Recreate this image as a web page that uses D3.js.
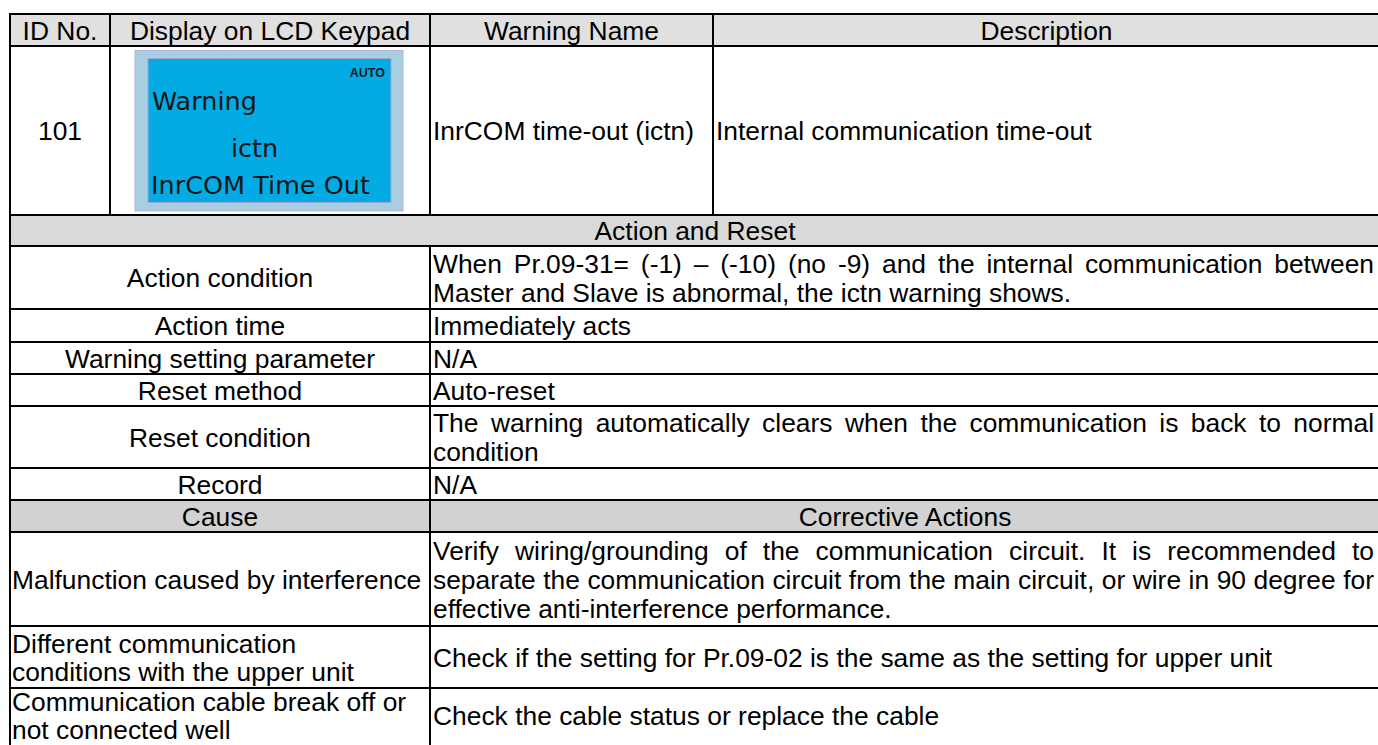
<!DOCTYPE html>
<html><head><meta charset="utf-8">
<script src="https://cdn.jsdelivr.net/npm/d3@7"></script>
<style>html,body{margin:0;padding:0;background:#fff;overflow:hidden}</style>
</head><body><svg id="c" width="1378" height="745"></svg>
<script>
// ---------- content ----------
const headers = ["ID No.", "Display on LCD Keypad", "Warning Name", "Description"];
const idNo = "101";
const lcdLines = ["Warning", "ictn", "InrCOM Time Out"];
const lcdBadge = "AUTO";
const warningName = "InrCOM time-out (ictn)";
const description = "Internal communication time-out";
const sectionTitle = "Action and Reset";
const actionLabels = ["Action condition", "Action time", "Warning setting parameter", "Reset method", "Reset condition", "Record"];
const actionValues = [
  ["When Pr.09-31= (-1) \u2013 (-10) (no -9) and the internal communication between", "Master and Slave is abnormal, the ictn warning shows."],
  ["Immediately acts"],
  ["N/A"],
  ["Auto-reset"],
  ["The warning automatically clears when the communication is back to normal", "condition"],
  ["N/A"]
];
const causeHeaders = ["Cause", "Corrective Actions"];
const causes = [
  ["Malfunction caused by interference"],
  ["Different communication", "conditions with the upper unit"],
  ["Communication cable break off or", "not connected well"]
];
const actions = [
  ["Verify wiring/grounding of the communication circuit. It is recommended to", "separate the communication circuit from the main circuit, or wire in 90 degree for", "effective anti-interference performance."],
  ["Check if the setting for Pr.09-02 is the same as the setting for upper unit"],
  ["Check the cable status or replace the cable"]
];

// ---------- layout ----------
const W = 1378, H = 745;
const colEdges = [10, 110, 430, 713, 1380];
const rowHeights = [32, 169, 31, 63, 33, 32, 32, 62, 32, 32, 94, 62, 54];
const top0 = 14;
const FONT = "'Liberation Sans', Arial, Helvetica, sans-serif";
const FS = 26.4, LH = 29, BASE = 9.5;

const rowTops = [top0, ...d3.cumsum(rowHeights).map(v => v + top0)];
const y = d3.scaleOrdinal().domain(d3.range(rowTops.length)).range(rowTops);
const x = d3.scaleOrdinal().domain(d3.range(colEdges.length)).range(colEdges);

const svg = d3.select("#c");

// fills
const fills = [
  {r: 0, c: "#e0e0e0"},
  {r: 2, c: "#d9d9d9"},
  {r: 9, c: "#d2d2d2"}
];
svg.selectAll("rect.fill").data(fills).join("rect")
  .attr("x", x(0)).attr("width", x(4) - x(0))
  .attr("y", d => y(d.r)).attr("height", d => y(d.r + 1) - y(d.r))
  .attr("fill", d => d.c);

// LCD panel
const lcdG = svg.append("g");
lcdG.append("rect").attr("x", 135).attr("y", 50.5).attr("width", 268).attr("height", 160.5)
  .attr("fill", "#a8cfe1").attr("stroke", "#b4b4de").attr("stroke-width", 1);
lcdG.append("rect").attr("x", 148).attr("y", 58.5).attr("width", 243).attr("height", 144)
  .attr("fill", "#02abe3").attr("stroke", "#a0a6dc").attr("stroke-width", 1);
lcdG.append("text").attr("x", 385).attr("y", 77).attr("text-anchor", "end")
  .attr("font-family", FONT).attr("font-weight", "bold").attr("font-size", 12.5)
  .attr("fill", "#1a1a1a").text(lcdBadge);
const lcdPos = [[152, 110], [231, 157], [151, 194]];
lcdG.selectAll("text.l").data(lcdLines).join("text")
  .attr("x", (d, i) => lcdPos[i][0]).attr("y", (d, i) => lcdPos[i][1])
  .attr("font-family", "'DejaVu Sans', Verdana, sans-serif").attr("font-size", 25.5)
  .attr("fill", "#151515").text(d => d);

// measuring helper
const meas = svg.append("text").attr("font-family", FONT).attr("font-size", FS).attr("visibility", "hidden");
function wlen(s) { meas.text(s); return meas.node().getComputedTextLength(); }

const txt = svg.append("g").attr("font-family", FONT).attr("font-size", FS).attr("fill", "#000");

function cellText(lines, r, x0, x1, align, justify, lh) {
  const step = lh || LH;
  const cy = (y(r) + y(r + 1)) / 2;
  const n = lines.length;
  lines.forEach((line, i) => {
    const by = cy + BASE + (i - (n - 1) / 2) * step;
    if (align === "middle") {
      txt.append("text").attr("x", (x0 + x1) / 2).attr("y", by).attr("text-anchor", "middle").text(line);
    } else if (justify && i < n - 1) {
      const words = line.split(" ");
      const ws = words.map(wlen);
      const gap = (x1 - x0 - d3.sum(ws)) / (words.length - 1);
      let cx = x0;
      const t = txt.append("text").attr("y", by);
      words.forEach((w, k) => {
        t.append("tspan").attr("x", cx).text(w);
        cx += ws[k] + gap;
      });
    } else {
      txt.append("text").attr("x", x0).attr("y", by).text(line);
    }
  });
}

// header
headers.forEach((h, i) => cellText([h], 0, x(i), x(i + 1), "middle"));
cellText([idNo], 1, x(0), x(1), "middle");
cellText([warningName], 1, x(2) + 3, x(3), "left");
cellText([description], 1, x(3) + 3, x(4), "left");
cellText([sectionTitle], 2, x(0), x(4), "middle");
actionLabels.forEach((l, i) => cellText([l], 3 + i, x(0), x(2), "middle"));
actionValues.forEach((v, i) => cellText(v, 3 + i, x(2) + 3, 1374, "left", true));
cellText([causeHeaders[0]], 9, x(0), x(2), "middle");
cellText([causeHeaders[1]], 9, x(2), x(4), "middle");
causes.forEach((v, i) => cellText(v, 10 + i, x(0) + 2, x(2), "left", false, 28));
actions.forEach((v, i) => cellText(v, 10 + i, x(2) + 3, 1374, "left", true));

// grid lines
const hLines = d3.range(0, rowTops.length - 1);
svg.selectAll("line.h").data(hLines).join("line")
  .attr("x1", x(0) - 1).attr("x2", x(4)).attr("y1", d => y(d)).attr("y2", d => y(d))
  .attr("stroke", "#000").attr("stroke-width", 2);
const vSegs = [
  {c: 0, r0: 0, r1: null}, {c: 4, r0: 0, r1: null},
  {c: 1, r0: 0, r1: 2}, {c: 2, r0: 0, r1: 2}, {c: 3, r0: 0, r1: 2},
  {c: 2, r0: 3, r1: null}
];
svg.selectAll("line.v").data(vSegs).join("line")
  .attr("x1", d => x(d.c)).attr("x2", d => x(d.c))
  .attr("y1", d => y(d.r0) - 1).attr("y2", d => d.r1 === null ? H : y(d.r1) + 1)
  .attr("stroke", "#000").attr("stroke-width", 2);
</script>
</body></html>
